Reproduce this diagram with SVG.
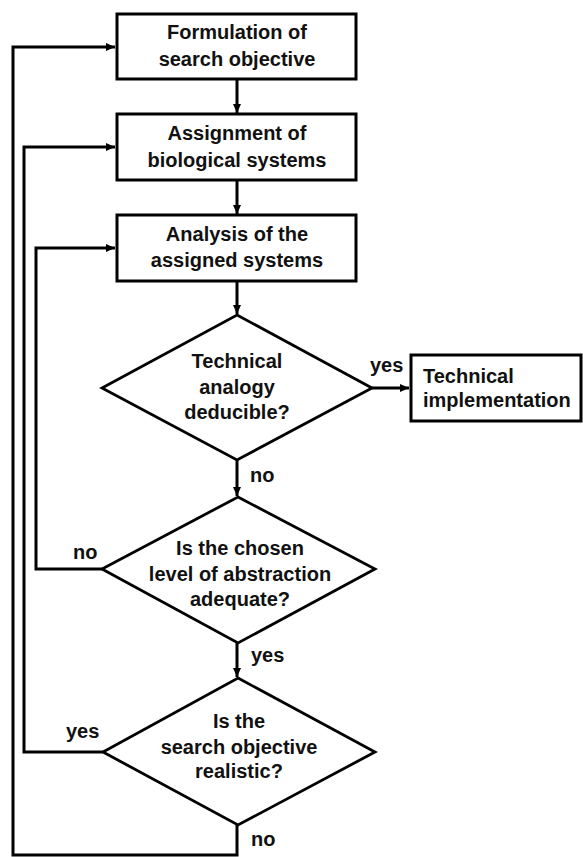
<svg xmlns="http://www.w3.org/2000/svg" width="583" height="857" viewBox="0 0 583 857">
<style>
.box{fill:#fff;stroke:#000;stroke-width:3}
.dia{fill:#fff;stroke:#000;stroke-width:2.8;stroke-linejoin:miter}
.t{font-family:"Liberation Sans",Arial,sans-serif;font-weight:bold;font-size:20px;fill:#111;text-anchor:middle}
.l{font-family:"Liberation Sans",Arial,sans-serif;font-weight:bold;font-size:20px;fill:#111}
.c{fill:none;stroke:#000;stroke-width:3}
</style>
<defs>
<marker id="ah" markerUnits="userSpaceOnUse" markerWidth="10" markerHeight="10" refX="9" refY="4" orient="auto">
<path d="M0,0 L9,4 L0,8 Z" fill="#000"/>
</marker>
</defs>
<rect width="583" height="857" fill="#fff"/>
<g id="connectors">
<path class="c" d="M237,79 V113" marker-end="url(#ah)"/>
<path class="c" d="M237,180 V214" marker-end="url(#ah)"/>
<path class="c" d="M237,281 V314" marker-end="url(#ah)"/>
<path class="c" d="M372,388 H409" marker-end="url(#ah)"/>
<path class="c" d="M237,460 V496" marker-end="url(#ah)"/>
<path class="c" d="M237,643 V677" marker-end="url(#ah)"/>
<path class="c" d="M102,569 H36 V248 H115" marker-end="url(#ah)"/>
<path class="c" d="M103,752 H24 V147 H115" marker-end="url(#ah)"/>
<path class="c" d="M237,825 V855 H13 V47 H115" marker-end="url(#ah)"/>
</g>
<g id="n1">
<rect class="box" x="117" y="14" width="239" height="65"/>
<text class="t" x="237" y="39">Formulation of</text>
<text class="t" x="237" y="66">search objective</text>
</g>
<g id="n2">
<rect class="box" x="117" y="114" width="239" height="66"/>
<text class="t" x="237" y="140">Assignment of</text>
<text class="t" x="237" y="167">biological systems</text>
</g>
<g id="n3">
<rect class="box" x="117" y="215" width="239" height="66"/>
<text class="t" x="237" y="241">Analysis of the</text>
<text class="t" x="237" y="267">assigned systems</text>
</g>
<g id="d1">
<polygon class="dia" points="237,315 372,388 237,460 102,388"/>
<text class="t" x="237" y="368">Technical</text>
<text class="t" x="237" y="394">analogy</text>
<text class="t" x="237" y="419">deducible?</text>
</g>
<g id="n4">
<rect class="box" x="411" y="355" width="170" height="66"/>
<text class="l" x="423" y="383">Technical</text>
<text class="l" x="423" y="407">implementation</text>
</g>
<g id="d2">
<polygon class="dia" points="238,497 375,569 238,643 102,569"/>
<text class="t" x="240" y="555">Is the chosen</text>
<text class="t" x="240" y="581">level of abstraction</text>
<text class="t" x="240" y="606">adequate?</text>
</g>
<g id="d3">
<polygon class="dia" points="238,678 375,752 238,825 103,752"/>
<text class="t" x="239" y="728">Is the</text>
<text class="t" x="239" y="754">search objective</text>
<text class="t" x="239" y="778">realistic?</text>
</g>
<g id="labels">
<text class="l" x="370" y="372">yes</text>
<text class="l" x="250" y="482">no</text>
<text class="l" x="73" y="559">no</text>
<text class="l" x="251" y="662">yes</text>
<text class="l" x="66" y="738">yes</text>
<text class="l" x="251" y="846">no</text>
</g>
</svg>
